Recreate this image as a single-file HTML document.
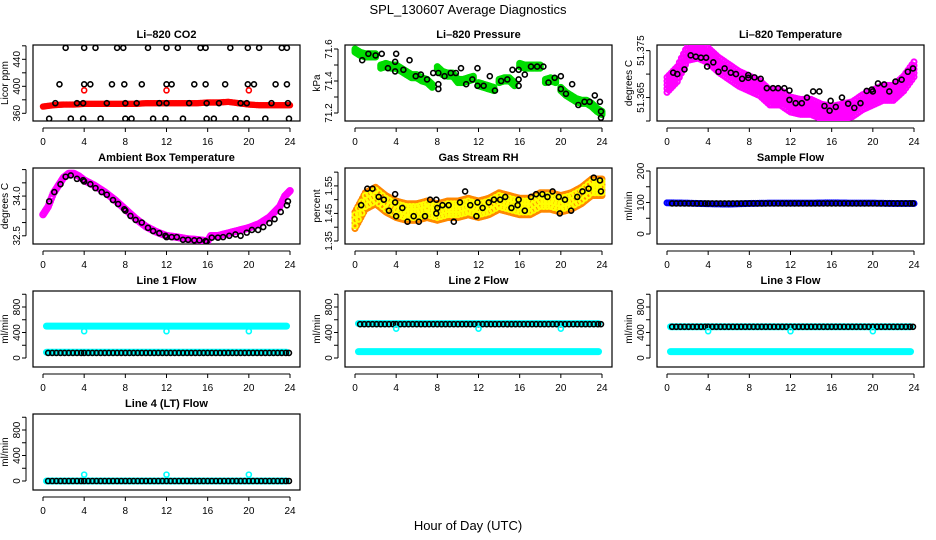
<!DOCTYPE html>
<html><head><meta charset="utf-8">
<style>
html,body{margin:0;padding:0;background:#fff;}
svg{display:block;font-family:"Liberation Sans",Arial,sans-serif;}
</style></head>
<body>
<svg id="chart" width="936" height="540" viewBox="0 0 936 540" xmlns="http://www.w3.org/2000/svg">
<text x="468" y="14" font-size="13" text-anchor="middle">SPL_130607  Average Diagnostics</text>
<text x="468" y="530" font-size="13" text-anchor="middle">Hour of Day (UTC)</text>
</svg>
<script>
// ---------- data ----------
const xTicks = [0,4,8,12,16,20,24];
// CO2
const co2Hours = [0,1,2,3,4,5,6,7,8,9,10,11,12,13,14,15,16,17,18,19,20,21,22,23,24];
const co2Red = [370,372,373,373,374,374,374,374,374,374,375,375,375,375,375,375,376,376,377,375,373,372,372,372,372];
const co2BlackHours = [2.2,4.0,5.1,7.2,7.8,10.2,12.0,13.1,15.3,15.8,18.2,19.9,21.0,23.2,23.7, 1.6,4.0,4.6,6.7,7.9,9.6,12.0,12.5,14.7,15.8,17.7,19.9,20.5,22.6,23.7, 1.2,3.3,3.9,6.2,8.0,9.1,11.3,12.0,14.2,15.9,17.1,19.2,19.8,22.2,23.8, 0.6,2.7,3.9,5.6,8.0,8.6,10.7,11.9,13.6,15.9,16.6,18.7,19.8,21.6,23.9];
const co2BlackVals = [457,457,457,457,457,457,457,457,457,457,457,457,457,457,457, 403,403,403,403,403,403,403,403,403,403,403,403,403,403,403, 375,375,375,375,375,375,375,375,375,375,375,375,375,375,375, 352,352,352,352,352,352,352,352,352,352,352,352,352,352,352];
const co2RedHours = [4,12,20];
const co2RedVals = [394,394,394];
// Pressure
const presHours = [0,0.5,1,1.5,2,2.5,3,3.5,4,4.5,5,5.5,6,6.5,7,7.5,8,8.5,9,9.5,10,10.5,11,11.5,12,12.5,13,13.5,14,14.5,15,15.5,16,16.5,17,17.5,18,18.5,19,19.5,20,20.5,21,21.5,22,22.5,23,23.5,24];
const presGreen = [71.59,71.57,71.56,71.56,71.56,71.49,71.50,71.49,71.49,71.47,71.45,71.43,71.43,71.41,71.40,71.37,71.48,71.45,71.44,71.44,71.40,71.40,71.41,71.42,71.38,71.37,71.36,71.35,71.40,71.41,71.41,71.38,71.50,71.49,71.49,71.49,71.49,71.40,71.41,71.40,71.35,71.32,71.30,71.28,71.27,71.27,71.25,71.22,71.20];
const presBlackHours = [0.7,1.3,2.0,2.6,3.2,3.9,3.9,4.0,4.7,5.3,5.9,6.4,7.0,7.6,8.1,8.1,8.1,8.7,9.3,9.8,10.3,10.8,11.4,11.9,11.9,12.5,13.1,13.6,14.2,14.8,15.3,15.9,15.9,15.9,16.5,17.1,17.7,18.3,18.8,19.4,20.0,20.0,20.5,21.1,21.7,22.3,22.8,23.3,23.8,23.9,23.9];
const presBlackVals = [71.53,71.57,71.56,71.57,71.48,71.52,71.46,71.57,71.47,71.53,71.43,71.44,71.41,71.45,71.45,71.38,71.35,71.43,71.45,71.45,71.48,71.38,71.41,71.37,71.48,71.37,71.43,71.34,71.40,71.41,71.47,71.47,71.41,71.37,71.44,71.49,71.49,71.49,71.39,71.42,71.35,71.43,71.32,71.38,71.25,71.27,71.27,71.31,71.27,71.21,71.17];
// Li-820 temperature
const tempHours = [0,1,2,3,4,5,6,7,8,9,10,11,12,13,14,15,16,17,18,19,20,21,22,23,24];
const tempMag = [51.3677,51.3700,51.3745,51.3750,51.3740,51.3720,51.3705,51.3690,51.3680,51.3670,51.3650,51.3650,51.3635,51.3630,51.3630,51.3620,51.3615,51.3620,51.3625,51.3640,51.3650,51.3660,51.3660,51.3680,51.3710];
const tempBlackHours = [0.6,1.0,1.7,2.3,2.8,3.3,3.8,3.9,4.5,5.0,5.6,6.2,6.7,7.3,7.9,7.9,8.5,9.1,9.7,10.3,10.8,11.4,11.9,11.9,12.5,13.1,13.6,14.2,14.8,15.3,15.8,15.9,16.4,17.0,17.6,18.2,18.8,19.4,19.9,20.0,20.5,21.1,21.6,22.2,22.8,23.4,23.9];
const tempBlackVals = [51.3703,51.3700,51.3710,51.3740,51.3737,51.3735,51.3735,51.3716,51.3725,51.3705,51.3712,51.3703,51.3700,51.3690,51.3692,51.3698,51.3693,51.3690,51.3670,51.3670,51.3670,51.3670,51.3665,51.3645,51.3638,51.3638,51.3650,51.3663,51.3663,51.3632,51.3622,51.3643,51.3630,51.3650,51.3637,51.3628,51.3638,51.3664,51.3667,51.3663,51.3680,51.3678,51.3663,51.3684,51.3688,51.3705,51.3712];
// Ambient box temperature
const ambHours = [0,0.5,1,1.5,2,2.5,3,3.5,4,5,6,7,8,9,10,11,12,13,14,15,16,16.3,17,18,19,20,21,22,23,23.5,24];
const ambMag = [33.3,33.6,34.1,34.4,34.7,34.85,34.85,34.75,34.6,34.4,34.15,33.85,33.5,33.15,32.85,32.65,32.5,32.45,32.38,32.35,32.3,32.5,32.5,32.6,32.7,32.8,32.95,33.2,33.6,34.0,34.2];
const ambBlackHours = [0.6,1.1,1.7,2.2,2.7,3.3,3.9,4.0,4.6,5.1,5.7,6.2,6.8,7.3,7.9,8.0,8.5,9.0,9.6,10.2,10.7,11.3,11.9,12.0,12.5,13.0,13.6,14.1,14.7,15.2,15.8,15.9,16.4,17.0,17.5,18.1,18.7,19.2,19.8,20.3,20.9,21.4,22.0,22.5,23.1,23.7,23.8];
const ambBlackVals = [33.8,34.15,34.45,34.73,34.78,34.65,34.6,34.55,34.45,34.3,34.15,34.05,33.85,33.7,33.5,33.45,33.25,33.1,33.0,32.8,32.68,32.6,32.5,32.45,32.45,32.45,32.35,32.35,32.33,32.33,32.3,32.27,32.43,32.43,32.45,32.5,32.55,32.5,32.62,32.72,32.72,32.83,32.98,33.13,33.4,33.65,33.8];
// Gas stream RH
const rhHours = [0,1,2,3,4,5,6,7,8,9,10,11,12,13,14,15,16,17,18,19,20,21,22,23,24];
const rhCloud = [1.43,1.50,1.52,1.49,1.47,1.46,1.46,1.47,1.46,1.47,1.47,1.48,1.47,1.48,1.50,1.49,1.48,1.48,1.50,1.50,1.49,1.50,1.52,1.55,1.55];
const rhBlackHours = [0.6,1.2,1.7,2.3,2.8,3.3,3.9,3.9,4.0,4.6,5.1,5.7,6.2,6.8,7.3,7.9,7.9,8.0,8.5,9.1,9.6,10.2,10.7,11.2,11.8,11.9,12.4,13.0,13.5,14.1,14.6,15.2,15.8,15.9,16.5,17.1,17.6,18.2,18.7,19.2,19.8,19.9,20.4,21.0,21.6,22.1,22.7,23.2,23.8,23.9];
const rhBlackVals = [1.48,1.54,1.54,1.51,1.50,1.46,1.52,1.49,1.44,1.47,1.42,1.44,1.42,1.44,1.50,1.45,1.50,1.47,1.48,1.48,1.42,1.49,1.53,1.48,1.44,1.49,1.47,1.49,1.50,1.50,1.51,1.47,1.48,1.50,1.46,1.51,1.52,1.52,1.51,1.53,1.51,1.45,1.50,1.46,1.51,1.53,1.54,1.58,1.57,1.53];
// Sample flow
const sfHours = [0,2,4,6,8,10,12,14,16,18,20,22,24];
const sfBlue = [99,98,96,95,97,98,98,98,99,98,98,97,97];
const sfBlackLevel = [97];
// Line flows
const flowBlackHours = [0.5,0.9,1.3,1.7,2.1,2.5,2.9,3.3,3.7,4.0,4.4,4.8,5.2,5.6,6.0,6.4,6.8,7.2,7.6,8.0,8.4,8.8,9.2,9.6,10.0,10.4,10.8,11.2,11.6,12.0,12.4,12.8,13.2,13.6,14.0,14.4,14.8,15.2,15.6,16.0,16.4,16.8,17.2,17.6,18.0,18.4,18.8,19.2,19.6,20.0,20.4,20.8,21.2,21.6,22.0,22.4,22.8,23.2,23.6,23.9];
const dipHours = [4,12,20];
const line1 = {cyanTop:500, cyanBottom:90, black:80, dip:420};
const line2 = {cyanTop:540, cyanBottom:100, black:530, dip:460};
const line3 = {cyanTop:490, cyanBottom:100, black:490, dip:420};
const line4 = {cyanTop:0, cyanBottom:0, black:0, dip:100};

// ---------- helpers ----------
const NS = "http://www.w3.org/2000/svg";
const svg = document.getElementById('chart');
function mk(tag, attrs, parent){
  const e = document.createElementNS(NS, tag);
  for (const k in attrs) e.setAttribute(k, attrs[k]);
  (parent||svg).appendChild(e);
  return e;
}
const COLS=[33,345,657], ROWS=[45,168,291,414], BW=267, BH=76;

function panel(name, col, row, title, ylab, lo, hi, ticks, labels){
  const L=COLS[col], T=ROWS[row], B=T+BH;
  const g = mk('g',{});
  
  
  const sx = h => L+10+h*(247/24);
  const sy = v => B-(v-lo)/(hi-lo)*BH;
  const box = mk('rect',{x:L,y:T,width:BW,height:BH,fill:'none',stroke:'#000','stroke-width':1.2},g);
  
  
  const t = mk('text',{x:L+BW/2,y:T-7,'font-size':11,'font-weight':'bold','text-anchor':'middle'},g);
  t.textContent=title;
  
  
  const xa = mk('g',{},g);
  
  
  mk('line',{x1:sx(xTicks[0]),x2:sx(xTicks[xTicks.length-1]),y1:B+7,y2:B+7,stroke:'#000'},xa);
  xTicks.forEach(h=>{
    mk('line',{x1:sx(h),x2:sx(h),y1:B+7,y2:B+11,stroke:'#000'},xa);
    const tx=mk('text',{x:sx(h),y:B+24,'font-size':10,'text-anchor':'middle'},xa);
    tx.textContent=h;
  });
  const ya = mk('g',{},g);
  
  
  mk('line',{x1:L-7,x2:L-7,y1:sy(ticks[0]),y2:sy(ticks[ticks.length-1]),stroke:'#000'},ya);
  ticks.forEach((v,i)=>{
    mk('line',{x1:L-11,x2:L-7,y1:sy(v),y2:sy(v),stroke:'#000'},ya);
    if(labels[i]!==''){
      const ty=mk('text',{transform:`translate(${L-13},${sy(v)}) rotate(-90)`,'font-size':10,'text-anchor':'middle'},ya);
      ty.textContent=labels[i];
    }
  });
  const yt=mk('text',{transform:`translate(${L-25},${T+BH/2}) rotate(-90)`,'font-size':10,'text-anchor':'middle'},g);
  yt.textContent=ylab;
  
  
  const clip = 'clip-'+name;
  const cp = mk('clipPath',{id:clip},g);
  mk('rect',{x:L,y:T,width:BW,height:BH},cp);
  const plot = mk('g',{'clip-path':`url(#${clip})`},g);
  return {sx,sy,g:plot};
}
function pts(p, name, hs, vs, color, r, sw){
  const g = mk('g',{},p.g);
  
  
  hs.forEach((h,i)=>{
    const c = mk('circle',{cx:p.sx(h),cy:p.sy(vs[i]),r:r,fill:'none',stroke:color,'stroke-width':sw},g);
    
    
  });
  return g;
}
function band(p, name, hs, vs, color, offsets, maxJump, step, rr){
  const r = rr||2.5;
  const g = mk('g',{},p.g);
  
  
  for(let i=0;i<hs.length;i++){
    const n = (i<hs.length-1 && Math.abs(vs[i+1]-vs[i])<=maxJump) ? Math.max(1,Math.round((hs[i+1]-hs[i])/step)) : 1;
    for(let k=0;k<n;k++){
      const f=k/n;
      const h = hs[i]+(i<hs.length-1?(hs[i+1]-hs[i])*f:0);
      const v = vs[i]+(i<hs.length-1?(vs[i+1]-vs[i])*f:0);
      offsets.forEach(o=>{
        const c=mk('circle',{cx:p.sx(h),cy:p.sy(v+o),r:r,fill:'none',stroke:color,'stroke-width':2},g);
        
        
      });
    }
  }
}
function levelBand(p,name,level,color,h0,h1){
  const r=mk('rect',{x:p.sx(h0),y:p.sy(level)-3.5,width:p.sx(h1)-p.sx(h0),height:7,rx:3.5,fill:color},p.g);
  
  
}

// ---------- panels ----------
let p = panel('co2',0,0,'Li\u2013820 CO2','Licor ppm',348.6,461.2,[360,380,400,420,440,460],['360','','400','','440','']);
band(p,'co2-red-series',co2Hours,co2Red,'#f00',[0],10,0.15,2.2);
pts(p,'co2-black-points',co2BlackHours,co2BlackVals,'#000',2.5,1.6);
pts(p,'co2-red-points',co2RedHours,co2RedVals,'#f00',2.5,1.6);

p = panel('pressure',1,0,'Li\u2013820 Pressure','kPa',71.15,71.625,[71.2,71.3,71.4,71.5,71.6],['71.2','','71.4','','71.6']);
band(p,'pressure-green-series',presHours,presGreen,'#0d0',[-0.01,0,0.01],0.04,0.12);
pts(p,'pressure-black-points',presBlackHours,presBlackVals,'#000',2.5,1.6);

p = panel('li820-temp',2,0,'Li\u2013820 Temperature','degrees C',51.3600,51.3762,[51.360,51.365,51.370,51.375],['','51.365','','51.375']);
band(p,'temp-magenta-series',tempHours,tempMag,'#f0f',[-0.0016,-0.0008,0,0.0008,0.0016],0.01,0.2);
pts(p,'temp-black-points',tempBlackHours,tempBlackVals,'#000',2.5,1.6);

p = panel('ambient-temp',0,1,'Ambient Box Temperature','degrees C',32.19,35.06,[32.5,33,33.5,34,34.5,35],['32.5','','','34.0','','']);
band(p,'ambient-magenta-series',ambHours,ambMag,'#f0f',[0],1,0.1,2.8);
pts(p,'ambient-black-points',ambBlackHours,ambBlackVals,'#000',2.5,1.6);

p = panel('gas-rh',1,1,'Gas Stream RH','percent',1.339,1.615,[1.35,1.40,1.45,1.50,1.55,1.60],['1.35','','1.45','','1.55','']);
band(p,'rh-orange-series',rhHours,rhCloud,'#f80',[-0.035,-0.015,0.005,0.025],1,0.15);
band(p,'rh-yellow-series',rhHours,rhCloud,'#ff0',[-0.025,-0.005,0.015],1,0.3);
pts(p,'rh-black-points',rhBlackHours,rhBlackVals,'#000',2.5,1.6);

p = panel('sample-flow',2,1,'Sample Flow','ml/min',-31.7,209.5,[0,50,100,150,200],['0','','100','','200']);
band(p,'sample-blue-series',sfHours,sfBlue,'#00f',[0],50,0.2);
pts(p,'sample-black-points',flowBlackHours,flowBlackHours.map(()=>sfBlackLevel[0]),'#000',2.5,1.6);

const flowTicks=[0,200,400,600,800,1000], flowLabels=['0','','400','','800',''];
function flowPanel(name,col,row,title,d){
  const q = panel(name,col,row,title,'ml/min',-141,1051,flowTicks,flowLabels);
  if(d.cyanTop>0) levelBand(q,name+'-cyan-upper',d.cyanTop,'#0ff',0,24);
  levelBand(q,name+'-cyan-lower',d.cyanBottom,'#0ff',0,24);
  pts(q,name+'-black-points',flowBlackHours,flowBlackHours.map(()=>d.black),'#000',2.5,1.6);
  pts(q,name+'-cyan-dips',dipHours,dipHours.map(()=>d.dip),'#0ff',2.5,1.6);
}
flowPanel('line1-flow',0,2,'Line 1 Flow',line1);
flowPanel('line2-flow',1,2,'Line 2 Flow',line2);
flowPanel('line3-flow',2,2,'Line 3 Flow',line3);
flowPanel('line4-flow',0,3,'Line 4 (LT) Flow',line4);
</script>
</body></html>
